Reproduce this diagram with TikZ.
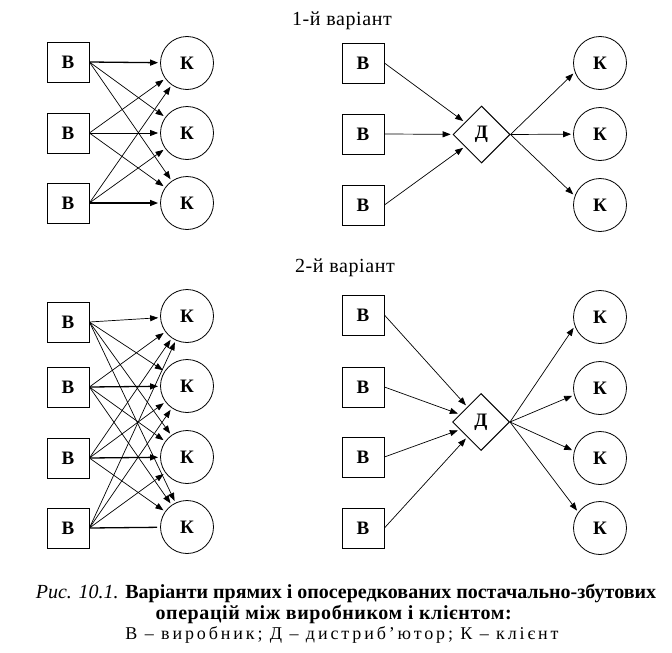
\documentclass[tikz,border=0pt]{standalone}
\usepackage{fontspec}
\setmainfont{Liberation Serif}
\usetikzlibrary{arrows.meta,shapes.geometric}
\tikzset{
  prod/.style={draw, line width=0.8pt, minimum width=42pt, minimum height=40pt, inner sep=0pt,
    font=\fontsize{19}{19}\selectfont\bfseries},
  client/.style={draw, circle, line width=0.8pt, minimum size=53pt, inner sep=0pt,
    font=\fontsize{19}{19}\selectfont\bfseries},
  distr/.style={draw, diamond, line width=1pt, minimum width=57pt, minimum height=57pt, inner sep=0pt,
    font=\fontsize{19}{19}\selectfont\bfseries},
  arr/.style={-{Triangle[length=8pt,width=6pt]}, line width=0.7pt, shorten >=2pt},
  arrs/.style={every edge/.style={draw, arr}},
  thk/.style={line width=1.3pt},
  title/.style={anchor=base, font=\fontsize{20}{20}\selectfont\addfontfeatures{LetterSpace=3}},
  capt/.style={anchor=base, font=\fontsize{20}{20}\selectfont}
}
\begin{document}
\begin{tikzpicture}[x=1pt, y=1pt]
    \useasboundingbox (0,0) rectangle (672,-653);

    \node[title] (t1) at (342,-25) {1-й варіант};

    \node[prod] (a1) at (68,-62) {В};
    \node[prod] (a2) at (68,-133) {В};
    \node[prod] (a3) at (68,-203) {В};
    \node[client] (b1) at (187,-63) {К};
    \node[client] (b2) at (187,-133) {К};
    \node[client] (b3) at (187,-203) {К};
    \path[arrs] (a1.east) edge[thk] (b1) edge (b2) edge (b3);
    \path[arrs] (a2.east) edge (b1) edge (b2) edge (b3);
    \path[arrs] (a3.east) edge (b1) edge (b2) edge[thk] (b3);

    \node[prod] (c1) at (363,-63) {В};
    \node[prod] (c2) at (363,-134) {В};
    \node[prod] (c3) at (363,-205) {В};
    \node[distr] (d) at (481.5,-134.5) {Д};
    \node[client] (e1) at (600,-63) {К};
    \node[client] (e2) at (600,-134) {К};
    \node[client] (e3) at (600,-205) {К};
    \path[arrs] (c1.east) edge (d) (c2.east) edge (d) (c3.east) edge (d);
    \path[arrs] (d.east) edge (e1.200) edge (e2) edge (e3.160);

    \node[title] (t2) at (345,-272) {2-й варіант};

    \node[prod] (f1) at (68,-322) {В};
    \node[prod] (f2) at (68,-387) {В};
    \node[prod] (f3) at (68,-458) {В};
    \node[prod] (f4) at (68,-528) {В};
    \node[client] (g1) at (187,-316) {К};
    \node[client] (g2) at (187,-386) {К};
    \node[client] (g3) at (187,-457) {К};
    \node[client] (g4) at (187,-527) {К};
    \path[arrs] (f1.east) edge (g1) edge (g2) edge (g3) edge (g4);
    \path[arrs] (f2.east) edge (g1) edge[thk] (g2) edge (g3) edge (g4);
    \path[arrs] (f3.east) edge (g1) edge (g2) edge[thk] (g3) edge (g4);
    \path[arrs] (f4.east) edge (g1) edge (g2) edge (g3);
    \draw[thk, shorten >=3pt] (f4.east) -- (g4);

    \node[prod] (h1) at (363,-315) {В};
    \node[prod] (h2) at (363,-387) {В};
    \node[prod] (h3) at (363,-457) {В};
    \node[prod] (h4) at (363,-528) {В};
    \node[distr] (p) at (481,-422) {Д};
    \node[client] (q1) at (600,-317) {К};
    \node[client] (q2) at (600,-388) {К};
    \node[client] (q3) at (600,-458) {К};
    \node[client] (q4) at (600,-528) {К};
    \path[arrs] (h1.east) edge (p) (h2.east) edge (p) (h3.east) edge (p) (h4.east) edge (p);
    \path[arrs] (p.east) edge (q1.200) edge (q2.195) edge (q3.165) edge (q4.144);

    \node[capt] (l1) at (346,-598) {\textit{Рис. 10.1.} \textbf{Варіанти прямих і опосередкованих постачально-збутових}};
    \node[capt, font=\fontsize{20}{20}\selectfont\addfontfeatures{LetterSpace=3}] (l2) at (334,-619) {\textbf{операцій між виробником і клієнтом:}};
    \node[capt, font=\fontsize{18}{18}\selectfont\addfontfeatures{LetterSpace=16}] (l3) at (342,-639) {В -- виробник; Д -- дистриб'ютор; К -- клієнт};
\end{tikzpicture}
\end{document}
